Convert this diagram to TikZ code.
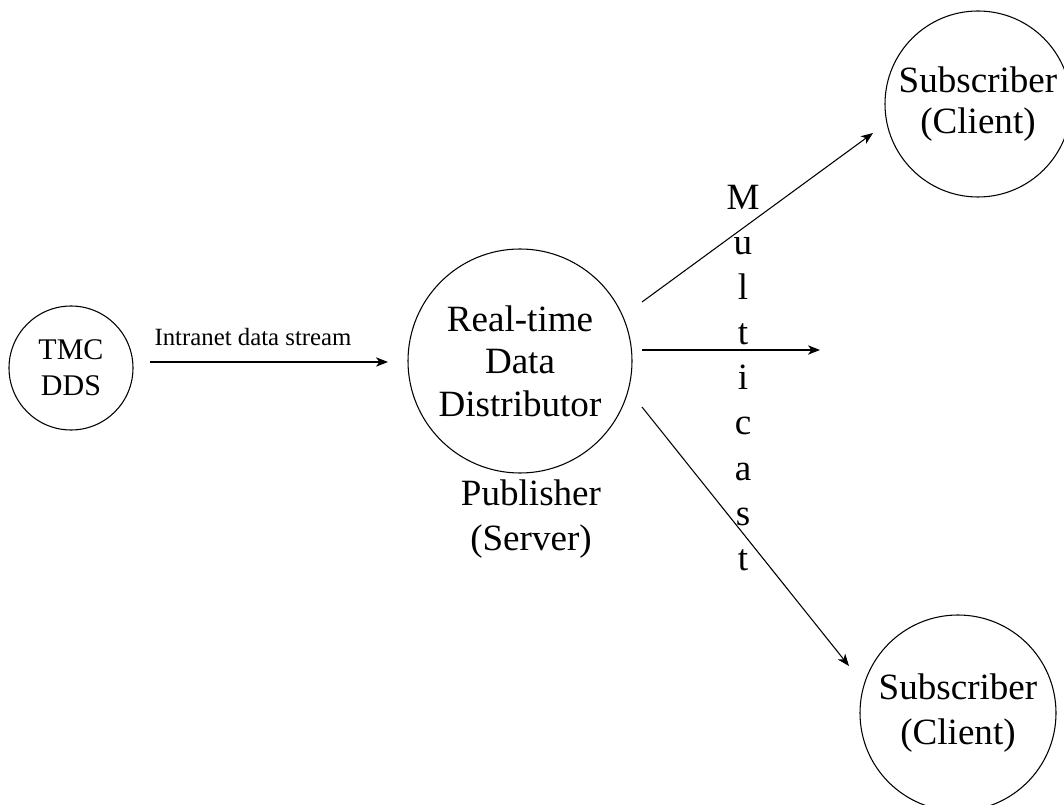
\documentclass[tikz,border=0pt]{standalone}
\usepackage{fontspec}
\setmainfont{Liberation Serif}
\usetikzlibrary{arrows.meta}
\begin{document}
\begin{tikzpicture}[x=0.75pt,y=-0.75pt,
  circ/.style={draw,circle,line width=0.8pt,inner sep=0pt,align=center},
  big/.style={font=\fontsize{27.8}{31}\selectfont},
  arr/.style={line width=0.8pt,-{Stealth[length=9pt,width=7pt,inset=2.5pt]}},
  letter/.style={anchor=base,font=\fontsize{27.8}{31}\selectfont,inner sep=0pt}]
\useasboundingbox (0,0) rectangle (1064,805);
\node[circ,minimum size=124*0.75pt,font=\fontsize{22.5}{27}\selectfont] (tmc) at (71,368) {TMC\\DDS};
\node[circ,minimum size=224*0.75pt,font=\fontsize{27.8}{32}\selectfont] (rtd) at (520,361) {Real-time\\Data\\Distributor};
\node[align=center,font=\fontsize{27.8}{34}\selectfont] (pub) at (531,519) {Publisher\\(Server)};
\node[circ,minimum size=186*0.75pt,font=\fontsize{27.8}{30.5}\selectfont] (sub1) at (978,104) {Subscriber\\(Client)};
\node[circ,minimum size=196*0.75pt,font=\fontsize{27.8}{33.5}\selectfont] (sub2) at (958,713) {Subscriber\\(Client)};
% connector end points
\coordinate (i1) at (150,362);
\coordinate (i2) at (388,362);
\coordinate (u1) at (642,302);
\coordinate (u2) at (873,133);
\coordinate (m1) at (642,350);
\coordinate (m2) at (820,350);
\coordinate (d1) at (642,407);
\coordinate (d2) at (849,666);
\draw[arr] (i1) -- (i2);
\node[font=\fontsize{18.6}{22}\selectfont,inner sep=0pt] (lbl) at (253,337) {Intranet data stream};
\draw[arr] (u1) -- (u2);
\draw[arr] (m1) -- (m2);
\draw[arr] (d1) -- (d2);
% vertical Multicast
\node[letter] (L1) at (743,210) {M};
\node[letter] (L2) at (743,255) {u};
\node[letter] (L3) at (743,300) {l};
\node[letter] (L4) at (743,345) {t};
\node[letter] (L5) at (743,390) {i};
\node[letter] (L6) at (743,435) {c};
\node[letter] (L7) at (743,480) {a};
\node[letter] (L8) at (743,525) {s};
\node[letter] (L9) at (743,570) {t};
\end{tikzpicture}
\end{document}
